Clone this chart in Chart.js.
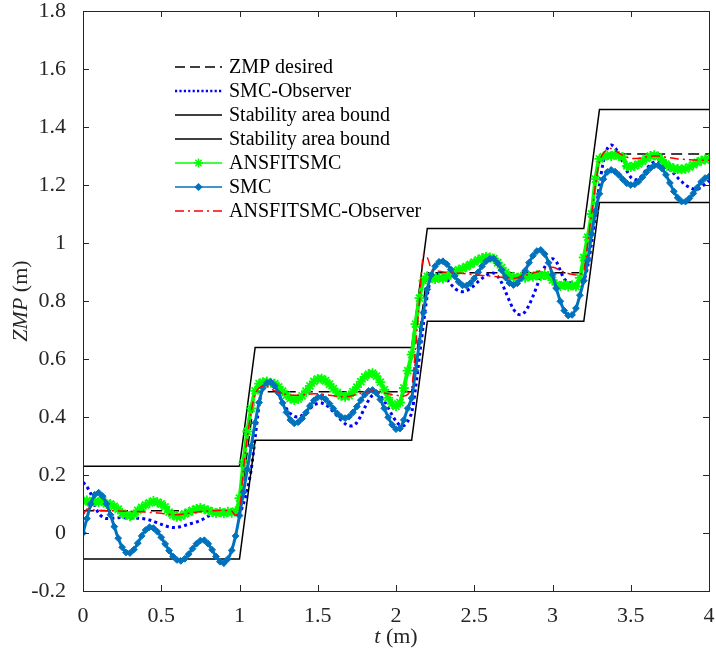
<!DOCTYPE html>
<html>
<head>
<meta charset="utf-8">
<script src="https://cdn.jsdelivr.net/npm/chart.js@4.4.1/dist/chart.umd.min.js"></script>
<style>
  html, body { margin: 0; padding: 0; background: #fff; }
  #wrap { width: 716px; height: 659px; }
</style>
</head>
<body>
<div id="wrap"><canvas id="zmpChart" width="716" height="659"></canvas></div>
<script>
  // sample times of the simulated curves, 0 .. 4 every 0.025
  const t = Array.from({ length: 161 }, (_, i) => +(i * 0.025).toFixed(3));

  // desired ZMP and stability bounds, given at their corners
  const stepT = [0, 1, 1.1, 2.1, 2.2, 3.2, 3.3, 4];
  const zmpDesired = [0.077, 0.077, 0.487, 0.487, 0.897, 0.897, 1.307, 1.307];
  const boundUpper = [0.23, 0.23, 0.64, 0.64, 1.05, 1.05, 1.46, 1.46];
  const boundLower = [-0.09, -0.09, 0.32, 0.32, 0.73, 0.73, 1.14, 1.14];

  // one row = 10 samples (0.25 of t)
  const smcObserver = [
    0.175, 0.160, 0.135, 0.095, 0.068, 0.055, 0.050, 0.050, 0.052, 0.053,
    0.053, 0.052, 0.052, 0.052, 0.051, 0.050, 0.048, 0.045, 0.040, 0.035,
    0.030, 0.025, 0.021, 0.019, 0.019, 0.022, 0.026, 0.030, 0.034, 0.038,
    0.043, 0.050, 0.058, 0.066, 0.072, 0.074, 0.074, 0.072, 0.070, 0.068,
    0.070, 0.100, 0.150, 0.220, 0.330, 0.440, 0.510, 0.528, 0.516, 0.499,
    0.476, 0.452, 0.429, 0.412, 0.402, 0.400, 0.406, 0.417, 0.429, 0.440,
    0.447, 0.448, 0.442, 0.432, 0.418, 0.403, 0.389, 0.377, 0.370, 0.370,
    0.381, 0.404, 0.432, 0.458, 0.475, 0.480, 0.472, 0.455, 0.432, 0.407,
    0.386, 0.372, 0.370, 0.385, 0.415, 0.500, 0.610, 0.720, 0.820, 0.880,
    0.897, 0.893, 0.888, 0.875, 0.858, 0.844, 0.835, 0.832, 0.835, 0.843,
    0.854, 0.867, 0.878, 0.888, 0.894, 0.896, 0.885, 0.863, 0.832, 0.800,
    0.772, 0.756, 0.753, 0.763, 0.786, 0.816, 0.851, 0.887, 0.917, 0.938,
    0.946, 0.935, 0.905, 0.876, 0.865, 0.862, 0.860, 0.860, 0.870, 0.920,
    1.000, 1.100, 1.200, 1.280, 1.325, 1.338, 1.328, 1.306, 1.278, 1.249,
    1.227, 1.218, 1.221, 1.235, 1.254, 1.271, 1.279, 1.279, 1.273, 1.264,
    1.253, 1.240, 1.225, 1.212, 1.200, 1.192, 1.186, 1.185, 1.192, 1.204,
    1.215
  ];
  const ansfitsmc = [
    0.108, 0.112, 0.104, 0.110, 0.106, 0.112, 0.101, 0.100, 0.092, 0.082,
    0.068, 0.062, 0.058, 0.064, 0.078, 0.088, 0.097, 0.104, 0.110, 0.106,
    0.100, 0.090, 0.072, 0.062, 0.056, 0.058, 0.066, 0.072, 0.078, 0.083,
    0.086, 0.082, 0.078, 0.072, 0.069, 0.072, 0.068, 0.073, 0.070, 0.075,
    0.120, 0.240, 0.350, 0.430, 0.490, 0.515, 0.520, 0.522, 0.518, 0.515,
    0.504, 0.489, 0.475, 0.464, 0.459, 0.462, 0.473, 0.489, 0.507, 0.523,
    0.531, 0.532, 0.525, 0.513, 0.498, 0.484, 0.473, 0.470, 0.474, 0.487,
    0.503, 0.522, 0.538, 0.548, 0.551, 0.541, 0.520, 0.494, 0.466, 0.445,
    0.437, 0.450, 0.500, 0.560, 0.615, 0.720, 0.810, 0.870, 0.885, 0.880,
    0.876, 0.880, 0.878, 0.884, 0.892, 0.900, 0.908, 0.912, 0.918, 0.926,
    0.934, 0.942, 0.948, 0.952, 0.950, 0.946, 0.932, 0.915, 0.898, 0.886,
    0.882, 0.880, 0.884, 0.880, 0.886, 0.884, 0.889, 0.886, 0.890, 0.886,
    0.872, 0.856, 0.852, 0.856, 0.850, 0.854, 0.850, 0.880, 0.950, 1.020,
    1.100, 1.220, 1.290, 1.298, 1.302, 1.300, 1.305, 1.300, 1.296, 1.266,
    1.262, 1.266, 1.272, 1.282, 1.292, 1.300, 1.303, 1.298, 1.286, 1.272,
    1.262, 1.257, 1.255, 1.254, 1.256, 1.262, 1.270, 1.278, 1.284, 1.288,
    1.290
  ];
  const smc = [
    0.000, 0.050, 0.100, 0.132, 0.139, 0.127, 0.100, 0.063, 0.022, -0.018,
    -0.049, -0.067, -0.069, -0.057, -0.035, -0.010, 0.010, 0.020, 0.017, 0.005,
    -0.015, -0.038, -0.061, -0.081, -0.093, -0.096, -0.089, -0.073, -0.054, -0.037,
    -0.026, -0.025, -0.037, -0.058, -0.081, -0.099, -0.104, -0.090, -0.060, -0.010,
    0.060, 0.140, 0.220, 0.300, 0.380, 0.450, 0.500, 0.518, 0.520, 0.508,
    0.482, 0.449, 0.416, 0.390, 0.378, 0.382, 0.395, 0.415, 0.438, 0.457,
    0.468, 0.469, 0.461, 0.446, 0.429, 0.412, 0.400, 0.396, 0.401, 0.416,
    0.436, 0.458, 0.477, 0.490, 0.493, 0.483, 0.460, 0.430, 0.399, 0.373,
    0.358, 0.360, 0.390, 0.430, 0.465, 0.560, 0.660, 0.760, 0.840, 0.890,
    0.920, 0.935, 0.937, 0.927, 0.909, 0.886, 0.866, 0.854, 0.853, 0.862,
    0.878, 0.899, 0.920, 0.937, 0.946, 0.946, 0.930, 0.907, 0.881, 0.862,
    0.855, 0.861, 0.879, 0.904, 0.932, 0.956, 0.972, 0.976, 0.962, 0.932,
    0.891, 0.843, 0.799, 0.767, 0.750, 0.752, 0.775, 0.820, 0.870, 0.940,
    1.030, 1.110, 1.170, 1.220, 1.245, 1.252, 1.246, 1.234, 1.219, 1.206,
    1.200, 1.202, 1.212, 1.227, 1.244, 1.258, 1.267, 1.268, 1.257, 1.235,
    1.207, 1.178, 1.156, 1.143, 1.143, 1.154, 1.171, 1.191, 1.211, 1.224,
    1.229
  ];
  const ansfitsmcObserver = [
    0.062, 0.082, 0.080, 0.079, 0.078, 0.078, 0.077, 0.077, 0.076, 0.076,
    0.075, 0.075, 0.075, 0.074, 0.074, 0.073, 0.072, 0.071, 0.070, 0.069,
    0.068, 0.066, 0.064, 0.063, 0.063, 0.064, 0.066, 0.068, 0.070, 0.072,
    0.074, 0.075, 0.076, 0.077, 0.077, 0.078, 0.078, 0.077, 0.076, 0.060,
    0.080, 0.220, 0.330, 0.420, 0.480, 0.500, 0.506, 0.505, 0.498, 0.490,
    0.485, 0.481, 0.478, 0.476, 0.475, 0.475, 0.476, 0.478, 0.479, 0.480,
    0.480, 0.479, 0.477, 0.475, 0.473, 0.471, 0.470, 0.470, 0.471, 0.474,
    0.478, 0.482, 0.485, 0.488, 0.490, 0.489, 0.486, 0.483, 0.480, 0.477,
    0.475, 0.473, 0.472, 0.478, 0.500, 0.640, 0.800, 0.960, 0.950, 0.912,
    0.905, 0.903, 0.900, 0.899, 0.898, 0.897, 0.896, 0.895, 0.894, 0.892,
    0.890, 0.889, 0.888, 0.887, 0.886, 0.885, 0.884, 0.882, 0.880, 0.879,
    0.878, 0.880, 0.884, 0.888, 0.892, 0.896, 0.900, 0.905, 0.910, 0.914,
    0.916, 0.912, 0.905, 0.899, 0.895, 0.892, 0.890, 0.892, 0.900, 1.000,
    1.100, 1.200, 1.280, 1.310, 1.322, 1.326, 1.318, 1.310, 1.302, 1.296,
    1.292, 1.291, 1.292, 1.294, 1.297, 1.299, 1.300, 1.300, 1.298, 1.296,
    1.294, 1.292, 1.290, 1.289, 1.288, 1.287, 1.286, 1.286, 1.285, 1.285,
    1.285
  ];

  const xTicks = [0, 0.5, 1, 1.5, 2, 2.5, 3, 3.5, 4];
  const yTicks = [-0.2, 0, 0.2, 0.4, 0.6, 0.8, 1, 1.2, 1.4, 1.6, 1.8];

  const SERIF = "'Liberation Serif', 'Times New Roman', serif";
  const AXIS = '#262626';

  const xy = (xs, ys) => xs.map((v, i) => ({ x: v, y: ys[i] }));

  // legend rows as in the figure
  const legendItems = [
    { text: 'ZMP desired', color: '#000', width: 1.5, dash: [10, 5] },
    { text: 'SMC-Observer', color: '#0000ff', width: 2.6, dash: [2.2, 2.2] },
    { text: 'Stability area bound', color: '#000', width: 1.5, dash: [] },
    { text: 'Stability area bound', color: '#000', width: 1.5, dash: [] },
    { text: 'ANSFITSMC', color: '#00ff00', width: 1.5, dash: [], marker: 'star' },
    { text: 'SMC', color: '#0072bd', width: 1.5, dash: [], marker: 'rectRot' },
    { text: 'ANSFITSMC-Observer', color: '#ff0000', width: 1.5, dash: [9, 4, 2, 4] },
  ];

  const frame = {
    id: 'frame',
    afterDraw(chart) {
      const { ctx, chartArea: a, scales: { x, y } } = chart;
      ctx.save();

      // box and inward ticks on all four sides
      ctx.strokeStyle = AXIS;
      ctx.lineWidth = 1;
      ctx.setLineDash([]);
      ctx.strokeRect(a.left + 0.5, a.top + 0.5, a.right - a.left, a.bottom - a.top);
      ctx.beginPath();
      xTicks.forEach((v) => {
        const px = Math.round(x.getPixelForValue(v)) + 0.5;
        ctx.moveTo(px, a.bottom); ctx.lineTo(px, a.bottom - 6);
        ctx.moveTo(px, a.top); ctx.lineTo(px, a.top + 6);
      });
      yTicks.forEach((v) => {
        const py = Math.round(y.getPixelForValue(v)) + 0.5;
        ctx.moveTo(a.left, py); ctx.lineTo(a.left + 6, py);
        ctx.moveTo(a.right, py); ctx.lineTo(a.right - 6, py);
      });
      ctx.stroke();

      // axis titles, italic symbol + upright unit
      ctx.fillStyle = AXIS;
      ctx.textBaseline = 'middle';
      const title = (sym, unit, cx, cy, rot) => {
        ctx.save();
        ctx.translate(cx, cy);
        ctx.rotate(rot);
        ctx.font = 'italic 22px ' + SERIF;
        const w1 = ctx.measureText(sym).width;
        ctx.font = '22px ' + SERIF;
        const w2 = ctx.measureText(unit).width;
        const sx = -(w1 + w2) / 2;
        ctx.textAlign = 'left';
        ctx.font = 'italic 22px ' + SERIF;
        ctx.fillText(sym, sx, 0);
        ctx.font = '22px ' + SERIF;
        ctx.fillText(unit, sx + w1, 0);
        ctx.restore();
      };
      title('t', ' (m)', (a.left + a.right) / 2, 637, 0);
      title('ZMP', ' (m)', 21, (a.top + a.bottom) / 2, -Math.PI / 2);

      // legend inside the axes
      const lx0 = 175, lx1 = 222, tx = 229;
      legendItems.forEach((it, i) => {
        const ly = 67 + i * 24;
        ctx.strokeStyle = it.color;
        ctx.fillStyle = it.color;
        ctx.lineWidth = it.width;
        ctx.setLineDash(it.dash);
        ctx.beginPath();
        ctx.moveTo(lx0, ly); ctx.lineTo(lx1, ly);
        ctx.stroke();
        ctx.setLineDash([]);
        if (it.marker) {
          Chart.helpers.drawPoint(ctx, {
            pointStyle: it.marker,
            radius: it.marker === 'star' ? 4.5 : 3,
            rotation: 0,
            borderWidth: it.marker === 'star' ? 1.5 : 1,
          }, (lx0 + lx1) / 2, ly);
        }
        ctx.fillStyle = '#000';
        ctx.font = '20px ' + SERIF;
        ctx.textAlign = 'left';
        ctx.fillText(it.text, tx, ly + 1);
      });

      ctx.restore();
    },
  };

  new Chart(document.getElementById('zmpChart'), {
    type: 'line',
    data: {
      datasets: [
        {
          label: 'ANSFITSMC-Observer',
          data: xy(t, ansfitsmcObserver),
          borderColor: '#ff0000',
          borderWidth: 1.5,
          borderDash: [9, 4, 2, 4],
          pointRadius: 0,
          tension: 0.3,
          order: 0,
        },
        {
          label: 'SMC',
          data: xy(t, smc),
          borderColor: '#0072bd',
          backgroundColor: '#0072bd',
          borderWidth: 3,
          pointStyle: 'rectRot',
          pointRadius: 3.4,
          pointBorderWidth: 1,
          tension: 0.3,
          order: 1,
        },
        {
          label: 'ANSFITSMC',
          data: xy(t, ansfitsmc),
          borderColor: '#00ff00',
          backgroundColor: '#00ff00',
          borderWidth: 4,
          pointStyle: 'star',
          pointRadius: 5,
          pointBorderWidth: 1.8,
          tension: 0.3,
          order: 2,
        },
        {
          label: 'Stability area bound',
          data: xy(stepT, boundUpper),
          borderColor: '#000',
          borderWidth: 1.5,
          pointRadius: 0,
          tension: 0,
          order: 3,
        },
        {
          label: 'Stability area bound',
          data: xy(stepT, boundLower),
          borderColor: '#000',
          borderWidth: 1.5,
          pointRadius: 0,
          tension: 0,
          order: 3,
        },
        {
          label: 'SMC-Observer',
          data: xy(t, smcObserver),
          borderColor: '#0000ff',
          borderWidth: 3,
          borderDash: [3, 3.2],
          pointRadius: 0,
          tension: 0.3,
          order: 4,
        },
        {
          label: 'ZMP desired',
          data: xy(stepT, zmpDesired),
          borderColor: '#000',
          borderWidth: 1.5,
          borderDash: [11, 6],
          pointRadius: 0,
          tension: 0,
          order: 5,
        },
      ],
    },
    options: {
      responsive: false,
      animation: false,
      devicePixelRatio: 1,
      layout: { padding: { top: 11, right: 7, left: 0, bottom: 0 } },
      plugins: { legend: { display: false }, tooltip: { enabled: false } },
      scales: {
        x: {
          type: 'linear',
          min: 0,
          max: 4,
          grid: { display: false },
          border: { display: false },
          afterBuildTicks: (s) => { s.ticks = xTicks.map((v) => ({ value: v })); },
          afterFit: (s) => { s.height = 68; s.paddingLeft = 0; s.paddingRight = 0; },
          ticks: {
            padding: 6,
            color: AXIS,
            maxRotation: 0,
            font: { family: SERIF, size: 22, lineHeight: 1 },
            callback: (v) => String(+v.toFixed(1)),
          },
        },
        y: {
          type: 'linear',
          min: -0.2,
          max: 1.8,
          grid: { display: false },
          border: { display: false },
          afterBuildTicks: (s) => { s.ticks = yTicks.map((v) => ({ value: v })); },
          afterFit: (s) => { s.width = 83; s.paddingTop = 0; s.paddingBottom = 0; },
          ticks: {
            padding: 9,
            color: AXIS,
            font: { family: SERIF, size: 22, lineHeight: 1 },
            callback: (v) => String(+v.toFixed(1)),
          },
        },
      },
    },
    plugins: [frame],
  });
</script>
</body>
</html>
